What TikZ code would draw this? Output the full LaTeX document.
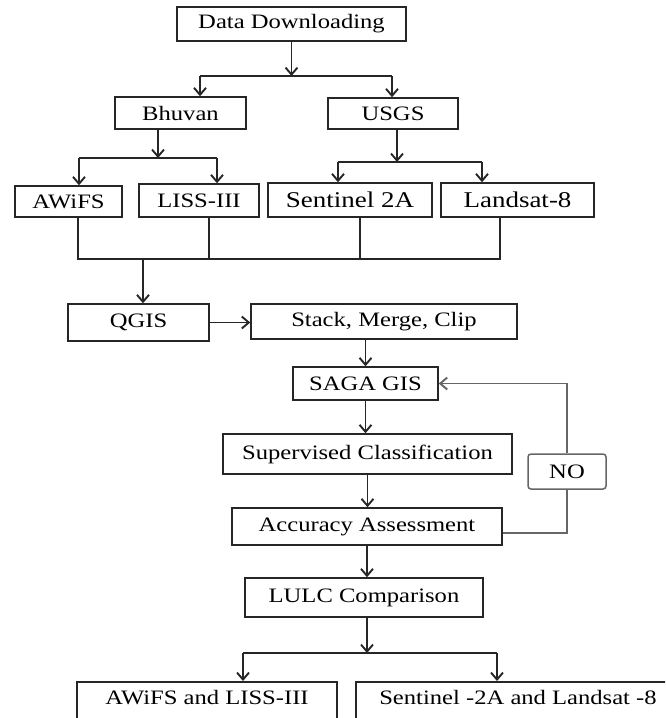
\documentclass[tikz,border=0pt]{standalone}
\usepackage{fontspec}
\setmainfont[FakeStretch=1.2]{Liberation Serif}
\usetikzlibrary{arrows.meta}

\begin{document}
\begin{tikzpicture}[x=1pt,y=-1pt,
    box/.style={draw=black!85,line width=1.5pt,inner sep=0pt,font=\fontsize{20.5}{24}\selectfont},
    big/.style={font=\fontsize{22.5}{26}\selectfont},
    arr/.style={-{Straight Barb[length=7pt,width=12pt]},line width=1.9pt,draw=black!85},
    ln/.style={line width=1.6pt,draw=black!85},
    back/.style={line width=1.5pt,draw=black!60}]
  \clip (0,0) rectangle (665,718);
  % boxes
  \node[box,minimum width=229pt,minimum height=34pt] (dd) at (291.5,24) {Data Downloading};
  \node[box,minimum width=131pt,minimum height=32pt] (bhuvan) at (180.5,113) {Bhuvan};
  \node[box,minimum width=130pt,minimum height=31pt] (usgs) at (393,113.5) {USGS};
  \node[box,minimum width=107pt,minimum height=31pt] (awifs) at (68.5,201.5) {AWiFS};
  \node[box,minimum width=120pt,minimum height=33pt] (liss) at (199,200.5) {LISS-III};
  \node[box,big,minimum width=164pt,minimum height=34pt] (sentinel) at (350,200) {Sentinel 2A};
  \node[box,big,minimum width=153pt,minimum height=34pt] (landsat) at (517.5,200) {Landsat-8};
  \node[box,minimum width=141pt,minimum height=37pt] (qgis) at (138.5,322.5) {QGIS};
  \node[box,minimum width=266pt,minimum height=35pt] (stack) at (384,321.5) {Stack, Merge, Clip};
  \node[box,minimum width=145pt,minimum height=33pt] (saga) at (365.5,383.5) {SAGA GIS};
  \node[box,minimum width=289pt,minimum height=40pt] (superv) at (367.5,454) {Supervised Classification};
  \node[box,draw=black!60,rounded corners=3pt,minimum width=78pt,minimum height=35pt] (no) at (567,471.5) {NO};
  \node[box,minimum width=270pt,minimum height=37pt] (acc) at (367,526.5) {Accuracy Assessment};
  \node[box,minimum width=238pt,minimum height=39pt] (lulc) at (364,597.5) {LULC Comparison};
  \node[box,anchor=north,minimum width=260pt,text height=22.5pt,text depth=20pt] (out1) at (207,681) {AWiFS and LISS-III};
  \node[box,anchor=north,minimum width=324pt,text height=22.5pt,text depth=20pt] (out2) at (518,681) {Sentinel -2A and Landsat -8};

  % split points
  \coordinate (s1) at (291.5,76);
  \coordinate (s1l) at (200,76);
  \coordinate (s1r) at (392,76);
  \coordinate (s2) at (158,158);
  \coordinate (s2l) at (79,158);
  \coordinate (s2r) at (217,158);
  \coordinate (s3) at (397,162);
  \coordinate (s3l) at (338,162);
  \coordinate (s3r) at (482,162);
  \coordinate (j) at (143,259);
  \coordinate (j1) at (78,259);
  \coordinate (j2) at (209,259);
  \coordinate (j3) at (360,259);
  \coordinate (j4) at (500,259);
  \coordinate (s4) at (367,653);
  \coordinate (s4l) at (243,653);
  \coordinate (s4r) at (497,653);

  % download sources
  \draw[arr] (dd.south -| s1) -- (s1);
  \draw[ln] (s1l) -- (s1r);
  \draw[arr] (s1l) -- (s1l |- bhuvan.north);
  \draw[arr] (s1r) -- (s1r |- usgs.north);
  \draw[arr] (bhuvan.south -| s2) -- (s2);
  \draw[ln] (s2l) -- (s2r);
  \draw[arr] (s2l) -- (s2l |- awifs.north);
  \draw[arr] (s2r) -- (s2r |- liss.north);
  \draw[arr] (usgs.south -| s3) -- (s3);
  \draw[ln] (s3l) -- (s3r);
  \draw[arr] (s3l) -- (s3l |- sentinel.north);
  \draw[arr] (s3r) -- (s3r |- landsat.north);

  % join to QGIS
  \draw[ln] (j1 |- awifs.south) -- (j1) -- (j4) -- (j4 |- landsat.south);
  \draw[ln] (j2 |- liss.south) -- (j2);
  \draw[ln] (j3 |- sentinel.south) -- (j3);
  \draw[arr] (j) -- (j |- qgis.north);

  % processing chain
  \draw[arr] (qgis.east) -- (qgis.east -| stack.west);
  \draw[arr] (saga |- stack.south) -- (saga.north);
  \draw[arr] (saga.south) -- (saga.south |- superv.north);
  \draw[arr] (superv.south) -- (superv.south |- acc.north);
  \draw[arr] (acc.south) -- (acc.south |- lulc.north);
  \draw[back] ([yshift=-6.5pt]acc.east) -| (no.south);
  \draw[arr,draw=black!60] (no.north) |- (saga.east);

  % outputs
  \draw[arr] (lulc.south -| s4) -- (s4);
  \draw[ln] (s4l) -- (s4r);
  \draw[arr] (s4l) -- (s4l |- out1.north);
  \draw[arr] (s4r) -- (s4r |- out2.north);
\end{tikzpicture}
\end{document}
